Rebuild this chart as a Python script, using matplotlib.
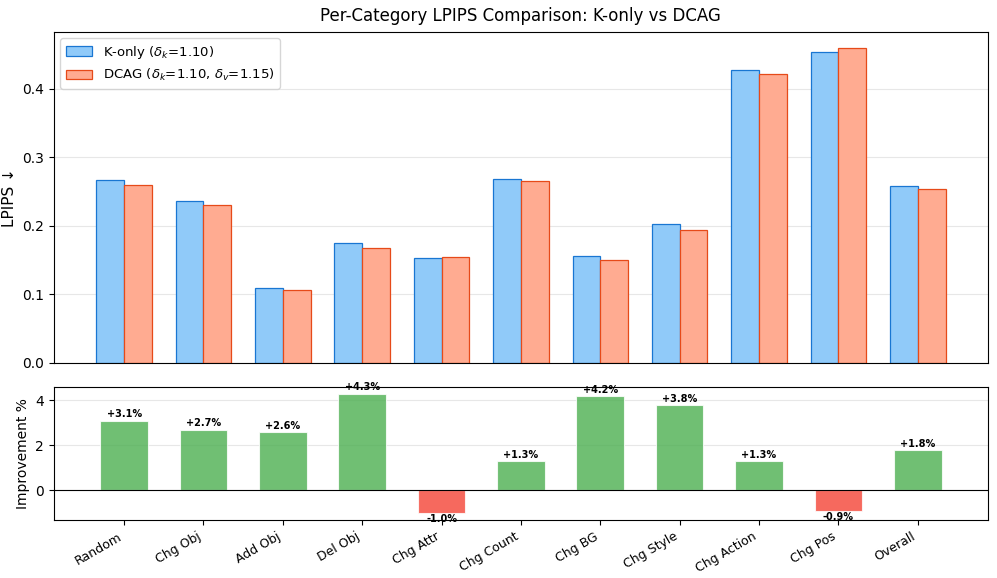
import matplotlib
matplotlib.use("Agg")
import matplotlib.pyplot as plt
import numpy as np

categories = ["Random", "Chg Obj", "Add Obj", "Del Obj", "Chg Attr", "Chg Count",
              "Chg BG", "Chg Style", "Chg Action", "Chg Pos", "Overall"]
k_only = [0.267, 0.236, 0.109, 0.175, 0.153, 0.268, 0.156, 0.202, 0.428, 0.454, 0.258]
dcag = [0.259, 0.230, 0.106, 0.167, 0.155, 0.265, 0.150, 0.194, 0.422, 0.459, 0.254]
improvement = [3.1, 2.7, 2.6, 4.3, -1.0, 1.3, 4.2, 3.8, 1.3, -0.9, 1.8]

fig = plt.figure(figsize=(9.97, 5.78), dpi=100)
ax1 = fig.add_axes([0.054, 0.372, 0.937, 0.573])
ax2 = fig.add_axes([0.054, 0.100, 0.937, 0.230], sharex=ax1)

x = np.arange(len(categories))
w = 0.35
ax1.bar(x - w/2, k_only, w, color="#90CAF9", edgecolor="#1976D2", linewidth=0.9,
        label=r"K-only ($\delta_k$=1.10)")
ax1.bar(x + w/2, dcag, w, color="#FFAB91", edgecolor="#E64A19", linewidth=0.9,
        label=r"DCAG ($\delta_k$=1.10, $\delta_v$=1.15)")
ax1.set_ylim(0, 0.483)
ax1.set_ylabel("LPIPS ↓", fontsize=11)
ax1.set_title("Per-Category LPIPS Comparison: K-only vs DCAG", fontsize=12, pad=8)
ax1.legend(loc="upper left", fontsize=9.5)
ax1.grid(axis="y", alpha=0.3)
ax1.set_axisbelow(True)
plt.setp(ax1.get_xticklabels(), visible=False)
ax1.tick_params(axis="x", length=0)

colors = ["#4CAF50" if v >= 0 else "#F44336" for v in improvement]
ax2.bar(x, improvement, 0.6, color=colors, alpha=0.8, edgecolor="white", linewidth=0.8)
for xi, v in zip(x, improvement):
    if v >= 0:
        ax2.text(xi, v + 0.05, f"+{v:.1f}%", ha="center", va="bottom", fontsize=7, fontweight="bold")
    else:
        ax2.text(xi, v - 0.05, f"{v:.1f}%", ha="center", va="top", fontsize=7, fontweight="bold")
ax2.axhline(0, color="black", linewidth=0.8)
ax2.set_ylim(-1.33, 4.58)
ax2.set_ylabel("Improvement %", fontsize=10)
ax2.grid(axis="y", alpha=0.3)
ax2.set_axisbelow(True)
ax2.set_xticks(x)
ax2.set_xticklabels(categories, rotation=30, ha="right", fontsize=9)

fig.savefig("out.png", dpi=100)
